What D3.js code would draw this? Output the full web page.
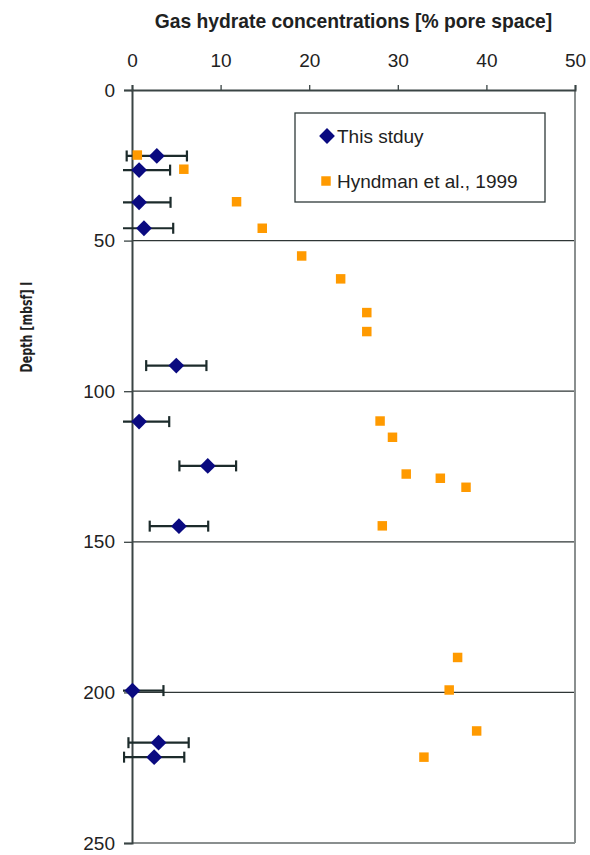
<!DOCTYPE html>
<html>
<head>
<meta charset="utf-8">
<title>Gas hydrate concentrations</title>
<script src="https://d3js.org/d3.v7.min.js"></script>
<style>
  body { margin: 0; background: #fff; }
  text { font-family: "Liberation Sans", Arial, sans-serif; fill: #1e2222; }
</style>
</head>
<body>
<svg id="graph" width="590" height="855"></svg>
<script>
// This study: depth (mbsf), concentration (% pore space), error (+/-)
const studyDepth = [21.9, 26.6, 37.3, 45.9, 91.5, 110.1, 124.8, 144.8, 199.4, 216.7, 221.5];
const studyConc  = [2.8, 0.8, 0.8, 1.35, 5.0, 0.8, 8.55, 5.3, 0.05, 3.0, 2.5];
const studyErr   = [3.4, 3.5, 3.55, 3.3, 3.4, 3.4, 3.2, 3.3, 3.5, 3.4, 3.4];

// Hyndman et al., 1999
const hyndDepth = [21.6, 26.3, 37.1, 45.9, 55.1, 62.7, 73.9, 80.2, 109.9, 115.3, 127.5, 128.9, 131.9, 144.7, 188.4, 199.2, 212.8, 221.5];
const hyndConc  = [0.6, 5.85, 11.8, 14.7, 19.15, 23.55, 26.5, 26.5, 28.0, 29.4, 30.95, 34.8, 37.7, 28.25, 36.75, 35.8, 38.9, 32.95];

const xTicks = [0, 10, 20, 30, 40, 50];
const yTicks = [0, 50, 100, 150, 200, 250];
const seriesNames = ["This stduy", "Hyndman et al., 1999"];

const svg = d3.select("#graph");
const x = d3.scaleLinear().domain([0, 50]).range([132, 575]);
const y = d3.scaleLinear().domain([0, 250]).range([90, 843]);

// gridlines
svg.append("g").selectAll("line")
  .data(yTicks.filter(d => d > 0 && d < 250))
  .enter().append("line")
  .attr("x1", x(0)).attr("x2", x(50))
  .attr("y1", d => y(d)).attr("y2", d => y(d))
  .attr("stroke", "#2e3636").attr("stroke-width", 1.2);

// plot border (right / bottom)
svg.append("line").attr("x1", x(50)).attr("x2", x(50)).attr("y1", y(0)).attr("y2", y(250))
  .attr("stroke", "#8a8f8f").attr("stroke-width", 2);
svg.append("line").attr("x1", x(0)).attr("x2", x(50)).attr("y1", y(250)).attr("y2", y(250))
  .attr("stroke", "#8a8f8f").attr("stroke-width", 2);

// axes
const xAxis = svg.append("g").attr("transform", "translate(0," + y(0) + ")")
  .call(d3.axisTop(x).tickValues(xTicks).tickSizeOuter(0).tickSize(5).tickPadding(18));
const yAxis = svg.append("g").attr("transform", "translate(" + x(0) + ",0)")
  .call(d3.axisLeft(y).tickValues(yTicks).tickSizeOuter(0).tickSize(8).tickPadding(9));
[xAxis, yAxis].forEach(a => {
  a.select(".domain").attr("stroke", "#3a4444").attr("stroke-width", 2);
  a.selectAll(".tick line").attr("stroke", "#3a4444").attr("stroke-width", 1.3);
  a.selectAll(".tick text").style("font-size", "19px").attr("fill", "#1e2222");
});

// titles
svg.append("text")
  .attr("x", (x(0) + x(50)) / 2).attr("y", 28)
  .attr("text-anchor", "middle")
  .style("font-size", "19.3px").style("font-weight", "bold")
  .text("Gas hydrate concentrations [% pore space]");

svg.append("text")
  .attr("transform", "translate(32,327) rotate(-90)")
  .attr("text-anchor", "middle")
  .attr("textLength", 91).attr("lengthAdjust", "spacingAndGlyphs")
  .style("font-family", "'Liberation Sans Narrow', 'Arial Narrow', 'DejaVu Sans Condensed', sans-serif")
  .style("font-size", "16.5px").style("font-weight", "bold")
  .text("Depth [mbsf]  I");

// error bars, clipped a bit left of the axis
svg.append("clipPath").attr("id", "clip")
  .append("rect").attr("x", x(0) - 9).attr("y", 0).attr("width", 600).attr("height", 855);

const study = studyDepth.map((d, i) => ({ depth: d, conc: studyConc[i], err: studyErr[i] }));
const hynd = hyndDepth.map((d, i) => ({ depth: d, conc: hyndConc[i] }));

const eb = svg.append("g").attr("clip-path", "url(#clip)")
  .attr("stroke", "#1c2b2b").attr("stroke-width", 2.2);
eb.selectAll(".bar").data(study).enter().append("line")
  .attr("x1", d => x(d.conc - d.err)).attr("x2", d => x(d.conc + d.err))
  .attr("y1", d => y(d.depth)).attr("y2", d => y(d.depth));
eb.selectAll(".capl").data(study).enter().append("line")
  .attr("x1", d => x(d.conc - d.err)).attr("x2", d => x(d.conc - d.err))
  .attr("y1", d => y(d.depth) - 5.5).attr("y2", d => y(d.depth) + 5.5);
eb.selectAll(".capr").data(study).enter().append("line")
  .attr("x1", d => x(d.conc + d.err)).attr("x2", d => x(d.conc + d.err))
  .attr("y1", d => y(d.depth) - 5.5).attr("y2", d => y(d.depth) + 5.5);

const diamond = d3.symbol().type(d3.symbolSquare).size(125);
const square = d3.symbol().type(d3.symbolSquare).size(90);

svg.append("g").selectAll("path").data(study).enter().append("path")
  .attr("d", diamond)
  .attr("transform", d => "translate(" + x(d.conc) + "," + y(d.depth) + ") rotate(45)")
  .attr("fill", "#0a0a80");

svg.append("g").selectAll("path").data(hynd).enter().append("path")
  .attr("d", square)
  .attr("transform", d => "translate(" + x(d.conc) + "," + y(d.depth) + ")")
  .attr("fill", "#ff9a00");

// legend
const legend = svg.append("g");
legend.append("rect")
  .attr("x", 295).attr("y", 113).attr("width", 250).attr("height", 89)
  .attr("fill", "white").attr("stroke", "#2e3a3a").attr("stroke-width", 1.3);
legend.append("path").attr("d", diamond)
  .attr("transform", "translate(327,136) rotate(45)").attr("fill", "#0a0a80");
legend.append("path").attr("d", square)
  .attr("transform", "translate(326,181)").attr("fill", "#ff9a00");
legend.selectAll("text").data(seriesNames).enter().append("text")
  .attr("x", 337).attr("y", (d, i) => 136 + i * 45).attr("dy", "0.35em")
  .style("font-size", "19px")
  .text(d => d);
</script>
</body>
</html>
